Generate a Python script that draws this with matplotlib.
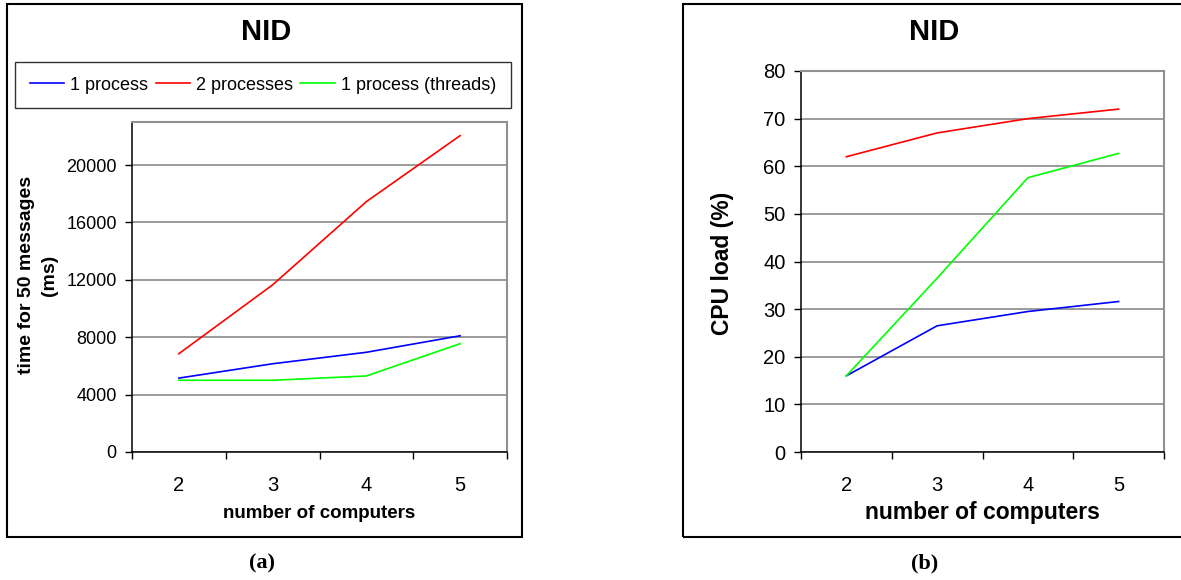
import matplotlib
matplotlib.use("Agg")
import matplotlib.pyplot as plt
from matplotlib.patches import Rectangle

plt.rcParams['font.family'] = ['Liberation Sans', 'DejaVu Sans']

# measurements for NID runs
computers = ["2", "3", "4", "5"]
series_names = ["1 process", "2 processes", "1 process (threads)"]
series_colors = ["#0000ff", "#ff0000", "#00ff00"]

time_one_proc = [5150, 6150, 6950, 8100]
time_two_proc = [6850, 11650, 17450, 22050]
time_threads = [5000, 5000, 5300, 7550]

cpu_one_proc = [16.0, 26.5, 29.5, 31.6]
cpu_two_proc = [62.0, 67.0, 70.0, 72.0]
cpu_threads = [16.0, 36.5, 57.6, 62.7]

time_ticks = [0, 4000, 8000, 12000, 16000, 20000]
cpu_ticks = [0, 10, 20, 30, 40, 50, 60, 70, 80]

W, H = 1181, 580
fig = plt.figure(figsize=(W / 100, H / 100), dpi=100)


def fx(px):
    return px / W


def fy(py):
    return 1 - py / H


def add_panel(left, top, right, bottom):
    return fig.add_axes([fx(left), fy(bottom), fx(right - left), fy(top) - fy(bottom)])


def style_axis(ax, ticks, ymax, ysize, xsize):
    pos = list(range(len(computers)))
    ax.set_xlim(-0.5, len(computers) - 0.5)
    ax.set_ylim(0, ymax)
    ax.set_xticks(pos)
    ax.set_xticklabels(computers, fontsize=xsize)
    ax.set_xticks([p - 0.5 for p in pos] + [len(pos) - 0.5], minor=True)
    ax.tick_params(axis='x', which='major', length=0, pad=17)
    ax.tick_params(axis='x', which='minor', length=5, width=1, direction='out')
    ax.set_yticks(ticks)
    ax.set_yticklabels([str(t) for t in ticks], fontsize=ysize)
    ax.tick_params(axis='y', length=5, width=1, direction='out', pad=6)
    ax.yaxis.grid(True, color='#808080', lw=1.1)
    ax.set_axisbelow(True)
    ax.spines['left'].set_color('black')
    ax.spines['bottom'].set_color('black')
    ax.spines['left'].set_linewidth(1.1)
    ax.spines['bottom'].set_linewidth(1.1)
    for s in ('top', 'right'):
        ax.spines[s].set_color('#909090')
        ax.spines[s].set_linewidth(1.5)


# outer frames
for x0, x1 in [(7, 522), (683, 1190)]:
    fig.add_artist(Rectangle((fx(x0), fy(537)), fx(x1 - x0), fy(4) - fy(537),
                             transform=fig.transFigure, fill=False,
                             edgecolor='black', lw=1.5))

# panel (a): time for 50 messages
ax1 = add_panel(132, 122, 507, 452)
x = range(len(computers))
for vals, name, col in zip([time_one_proc, time_two_proc, time_threads], series_names, series_colors):
    ax1.plot(x, vals, color=col, lw=1.2, label=name)
style_axis(ax1, time_ticks, 23000, 13, 14.5)

leg = ax1.legend(loc='center', bbox_to_anchor=(fx(263), fy(85)), bbox_transform=fig.transFigure,
                 ncol=3, fontsize=13, frameon=True, fancybox=False, edgecolor='black',
                 handlelength=1.9, handletextpad=0.35, columnspacing=0.4, borderpad=0.8)
leg.get_frame().set_linewidth(1.0)

fig.text(fx(266), fy(32), "NID", fontsize=21, fontweight='bold', ha='center', va='center')
fig.text(fx(38), fy(275), "time for 50 messages\n(ms)", fontsize=14, fontweight='bold',
         rotation=90, ha='center', va='center', multialignment='center', linespacing=1.45)
fig.text(fx(319), fy(513), "number of computers", fontsize=13.5, fontweight='bold',
         ha='center', va='center')
fig.text(fx(262), fy(563), "(a)", fontsize=16, fontweight='bold', family='Liberation Serif',
         ha='center', va='center')

# panel (b): CPU load
ax2 = add_panel(801, 71, 1164, 452)
for vals, name, col in zip([cpu_one_proc, cpu_two_proc, cpu_threads], series_names, series_colors):
    ax2.plot(x, vals, color=col, lw=1.2, label=name)
style_axis(ax2, cpu_ticks, 80, 14.5, 14.5)

fig.text(fx(934), fy(32), "NID", fontsize=21, fontweight='bold', ha='center', va='center')
fig.text(fx(722), fy(263), "CPU load (%)", fontsize=16.5, fontweight='bold',
         rotation=90, ha='center', va='center')
fig.text(fx(982), fy(513), "number of computers", fontsize=16.5, fontweight='bold',
         ha='center', va='center')
fig.text(fx(925), fy(563), "(b)", fontsize=16, fontweight='bold', family='Liberation Serif',
         ha='center', va='center')

fig.savefig("out.png", dpi=100, facecolor='white')
